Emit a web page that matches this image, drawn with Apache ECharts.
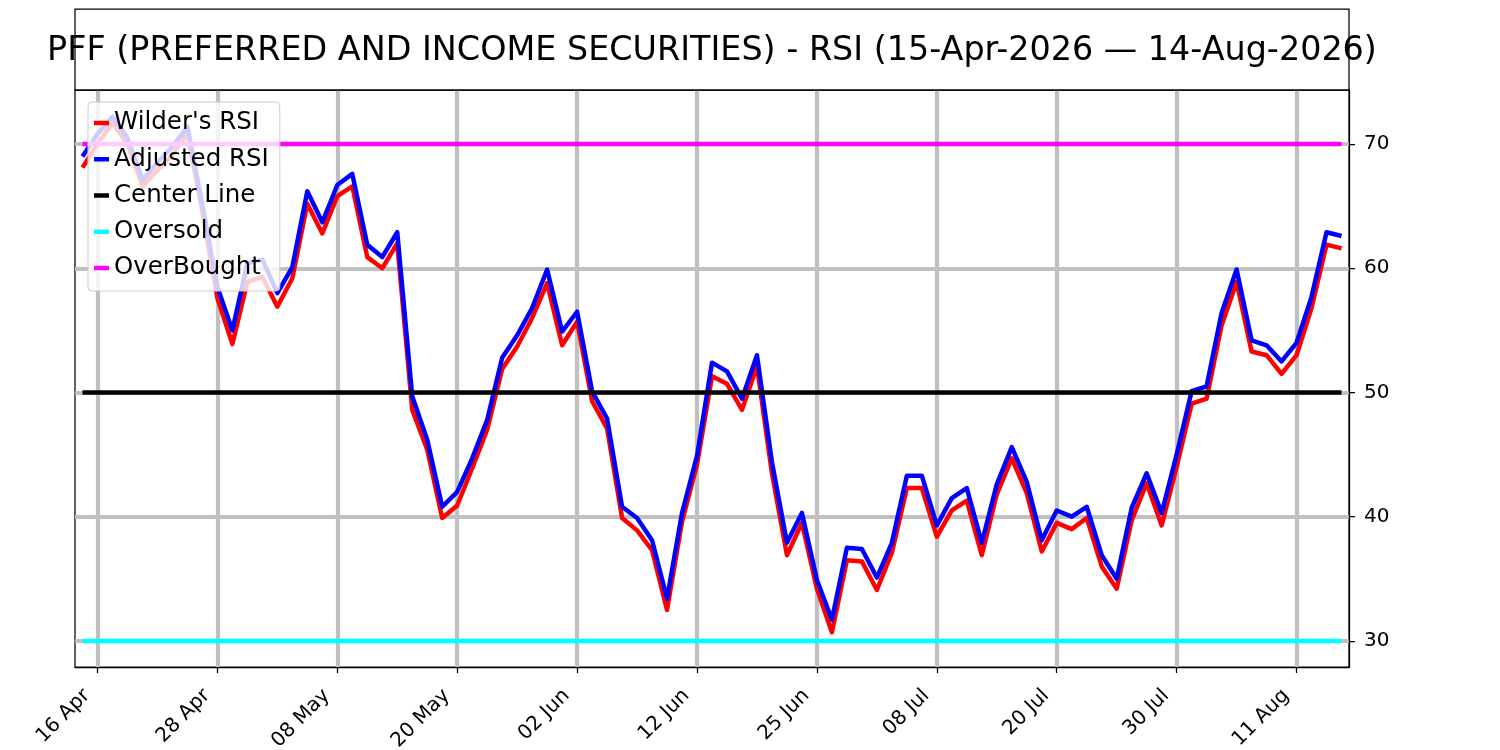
<!DOCTYPE html>
<html lang="en">
<head>
  <meta charset="UTF-8">
  <title>PFF - RSI</title>
  <script src="https://cdn.jsdelivr.net/npm/echarts@6.0.0/dist/echarts.min.js"></script>
  <style>
    html, body { margin: 0; padding: 0; background: #fff; }
  </style>
</head>
<body>
<div id="main" style="width: 1500px;height: 750px;"></div>
<script>
  // trading days, 15 Apr - 14 Aug 2026
  var dates = [
    '15 Apr', '16 Apr', '17 Apr', '20 Apr', '21 Apr', '22 Apr', '23 Apr', '24 Apr', '27 Apr', '28 Apr', '29 Apr', '30 Apr',
    '01 May', '04 May', '05 May', '06 May', '07 May', '08 May', '11 May', '12 May', '13 May', '14 May', '15 May',
    '18 May', '19 May', '20 May', '21 May', '22 May', '26 May', '27 May', '28 May', '29 May',
    '01 Jun', '02 Jun', '03 Jun', '04 Jun', '05 Jun', '08 Jun', '09 Jun', '10 Jun', '11 Jun', '12 Jun',
    '15 Jun', '16 Jun', '17 Jun', '18 Jun', '22 Jun', '23 Jun', '24 Jun', '25 Jun', '26 Jun', '29 Jun', '30 Jun',
    '01 Jul', '02 Jul', '06 Jul', '07 Jul', '08 Jul', '09 Jul', '10 Jul', '13 Jul', '14 Jul', '15 Jul', '16 Jul', '17 Jul',
    '20 Jul', '21 Jul', '22 Jul', '23 Jul', '24 Jul', '27 Jul', '28 Jul', '29 Jul', '30 Jul', '31 Jul',
    '03 Aug', '04 Aug', '05 Aug', '06 Aug', '07 Aug', '10 Aug', '11 Aug', '12 Aug', '13 Aug', '14 Aug'
  ];

  var wildersRsi = [
    68.1, 70.0, 71.7, 70.0, 66.6, 67.9, 69.1, 70.9, 64.5, 57.6, 53.9, 58.9,
    59.3, 56.9, 59.2, 65.2, 62.8, 65.8, 66.6, 60.9, 60.0, 62.0, 48.6,
    45.4, 39.9, 40.9, 43.9, 47.0, 51.9, 53.7, 56.0, 58.8,
    53.8, 55.7, 49.3, 47.1, 39.9, 38.9, 37.3, 32.5, 39.6, 44.2,
    51.3, 50.7, 48.6, 52.1, 43.5, 36.9, 39.5, 34.2, 30.7, 36.5, 36.4,
    34.1, 37.1, 42.3, 42.3, 38.4, 40.5, 41.3, 36.9, 41.8, 44.7, 41.9, 37.2,
    39.5, 39.0, 39.9, 36.0, 34.2, 39.7, 42.7, 39.3, 44.0, 49.1,
    49.5, 55.4, 58.9, 53.3, 53.0, 51.5, 53.0, 56.8, 61.9, 61.6
  ];

  var adjustedRsi = [
    69.0, 70.8, 72.2, 70.5, 67.1, 68.5, 69.8, 71.4, 65.1, 58.5, 55.0, 60.4,
    60.7, 58.0, 60.1, 66.2, 63.7, 66.7, 67.6, 61.9, 60.9, 62.9, 49.7,
    46.2, 40.8, 42.0, 44.7, 47.8, 52.8, 54.6, 56.8, 59.9,
    54.9, 56.5, 50.1, 47.9, 40.8, 39.9, 38.1, 33.4, 40.3, 44.9,
    52.4, 51.7, 49.5, 53.0, 44.4, 37.9, 40.3, 34.9, 31.7, 37.5, 37.4,
    35.1, 37.9, 43.3, 43.3, 39.3, 41.5, 42.3, 37.9, 42.6, 45.6, 42.8, 38.1,
    40.5, 40.0, 40.8, 36.9, 35.0, 40.7, 43.5, 40.3, 45.0, 50.1,
    50.5, 56.4, 59.9, 54.2, 53.8, 52.5, 54.0, 57.7, 62.9, 62.6
  ];

  var centerLevel = 50;
  var oversoldLevel = 30;
  var overboughtLevel = 70;
  var yTicks = [30, 40, 50, 60, 70];

  var titleText = 'PFF (PREFERRED AND INCOME SECURITIES) - RSI (15-Apr-2026 \u2014 14-Aug-2026)';
  var font = 'DejaVu Sans';

  function level(v) {
    return dates.map(function () { return v; });
  }
  // every 8th trading day, starting at 16 Apr
  function everyEighth(idx) {
    return idx % 8 === 1;
  }
  function lineSeries(name, data, color) {
    return {
      name: name,
      type: 'line',
      data: data,
      symbol: 'none',
      silent: true,
      lineStyle: { color: color, width: 4.5, join: 'round' },
      itemStyle: { color: color }
    };
  }

  var myChart = echarts.init(document.getElementById('main'));
  myChart.setOption({
    animation: false,
    backgroundColor: '#fff',
    title: {
      text: titleText,
      left: 712,
      top: 51,
      padding: 0,
      textAlign: 'center',
      textVerticalAlign: 'middle',
      textStyle: { fontFamily: font, fontSize: 33.4, fontWeight: 'normal', color: '#000' }
    },
    graphic: [{
      type: 'rect',
      shape: { x: 75, y: 9, width: 1274, height: 81 },
      style: { fill: 'none', stroke: '#000', lineWidth: 1.25 },
      z: 10
    }],
    legend: {
      left: 88,
      top: 102,
      orient: 'vertical',
      padding: [8, 11, 10, 6],
      itemGap: 10.25,
      itemWidth: 15,
      itemHeight: 4.5,
      icon: 'rect',
      backgroundColor: 'rgba(255,255,255,0.8)',
      borderColor: '#cccccc',
      borderWidth: 1,
      borderRadius: 4,
      selectedMode: false,
      textStyle: { fontFamily: font, fontSize: 24.5, lineHeight: 26, color: '#000' },
      data: ["Wilder's RSI", 'Adjusted RSI', 'Center Line', 'Oversold', 'OverBought'],
      z: 20
    },
    grid: {
      left: 75,
      right: 151,
      top: 90,
      bottom: 83,
      outerBoundsMode: 'none',
      containLabel: false,
      show: true,
      borderColor: '#000',
      borderWidth: 1.25,
      backgroundColor: 'transparent'
    },
    xAxis: {
      type: 'category',
      data: dates,
      boundaryGap: true,
      axisLine: { show: true, lineStyle: { color: '#000', width: 1.25 } },
      axisTick: { show: true, interval: everyEighth, alignWithLabel: true, length: 6, lineStyle: { color: '#000', width: 1.25 } },
      axisLabel: { interval: everyEighth, rotate: 45, margin: 15, padding: [0, 15, 0, 0], fontFamily: font, fontSize: 20, color: '#000' },
      splitLine: { show: true, interval: everyEighth, alignWithLabel: true, lineStyle: { color: '#c0c0c0', width: 4.2 } }
    },
    yAxis: {
      type: 'value',
      position: 'right',
      min: 27.9,
      max: 74.35,
      splitNumber: 5,
      axisLine: { show: true, lineStyle: { color: '#000', width: 1.25 } },
      axisTick: { show: true, length: 6, customValues: yTicks, lineStyle: { color: '#000', width: 1.25 } },
      axisLabel: { margin: 15, customValues: yTicks, fontFamily: font, fontSize: 20, color: '#000' },
      splitLine: { show: true, lineStyle: { color: '#c0c0c0', width: 4.2 } }
    },
    series: [
      lineSeries("Wilder's RSI", wildersRsi, '#ff0000'),
      lineSeries('Adjusted RSI', adjustedRsi, '#0000ff'),
      lineSeries('Center Line', level(centerLevel), '#000000'),
      lineSeries('Oversold', level(oversoldLevel), '#00ffff'),
      lineSeries('OverBought', level(overboughtLevel), '#ff00ff')
    ]
  });
</script>
</body>
</html>
